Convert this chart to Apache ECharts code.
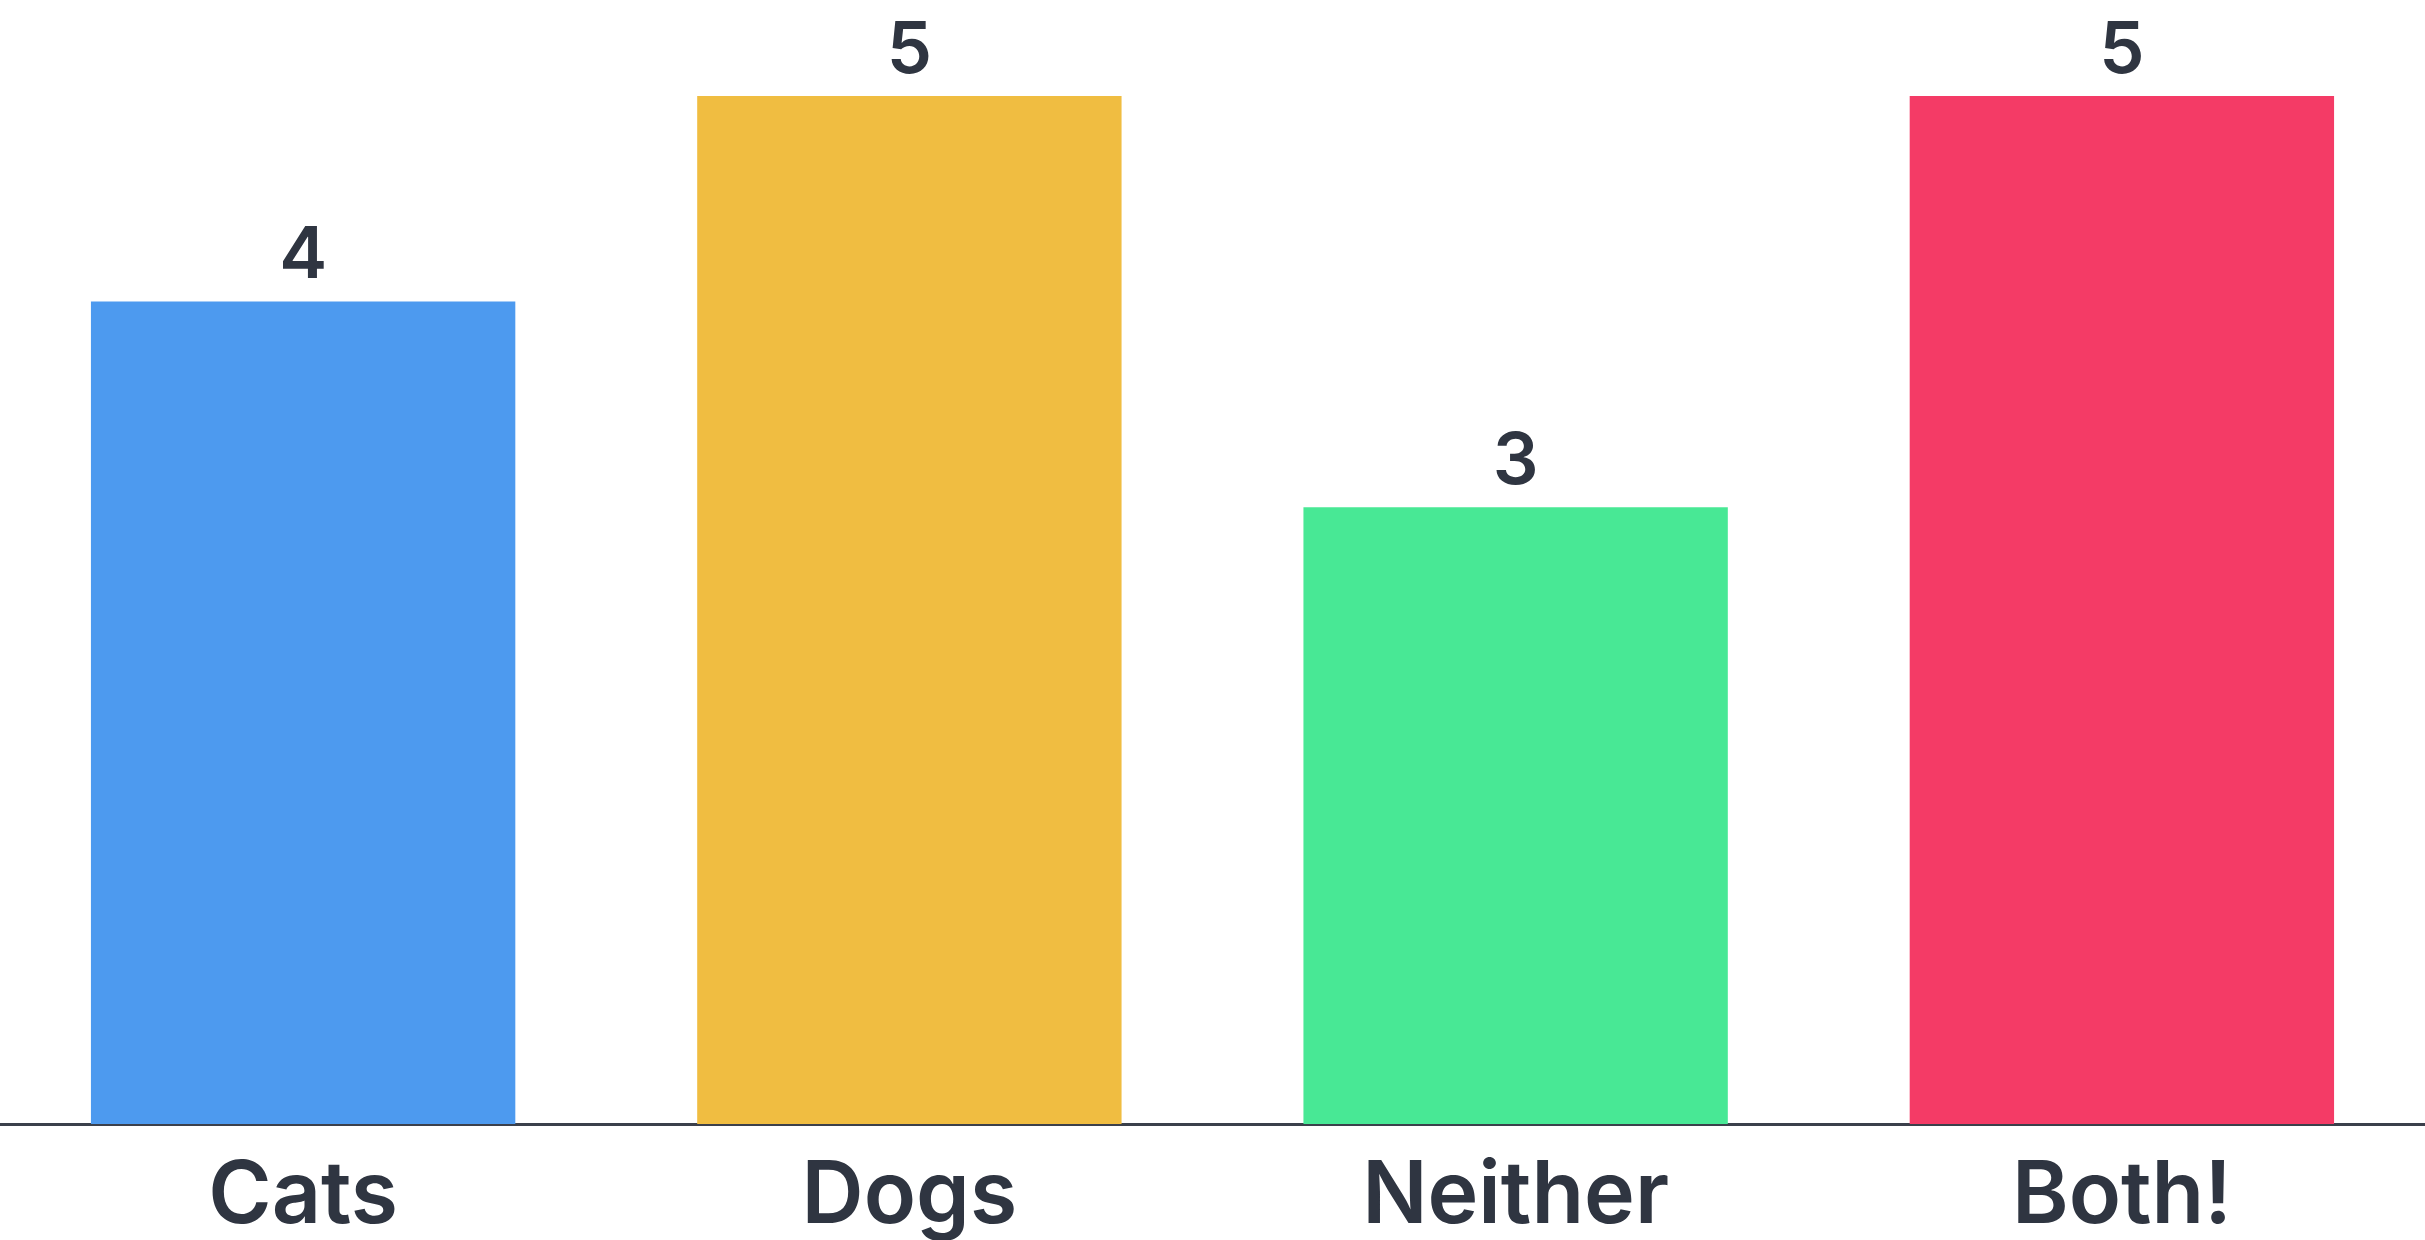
<!DOCTYPE html>
<html>
<head>
<meta charset="utf-8">
<script src="https://cdn.jsdelivr.net/npm/echarts@6/dist/echarts.min.js"></script>
<style>
html,body{margin:0;padding:0;background:#fff;}
#chart{width:2425px;height:1240px;}
</style>
</head>
<body>
<div id="chart"></div>
<script>
const categories = ["Cats", "Dogs", "Neither", "Both!"];
const values = [4, 5, 3, 5];
const barColors = ["#4d9aef", "#f0bd41", "#48e895", "#f43b66"];

const chart = echarts.init(document.getElementById('chart'), null, {renderer: 'canvas'});
chart.setOption({
  backgroundColor: '#ffffff',
  animation: false,
  grid: {left: 0, right: 0, top: 96, bottom: 113, containLabel: false},
  xAxis: {
    type: 'category',
    data: categories,
    axisLine: {show: true, lineStyle: {color: '#3b404b', width: 3}},
    axisTick: {show: false},
    axisLabel: {
      color: '#2f3541',
      fontFamily: 'Inter',
      fontWeight: 600,
      fontSize: 86,
      margin: 30
    }
  },
  yAxis: {
    type: 'value',
    min: 0,
    max: 5,
    interval: 1,
    show: false,
    splitLine: {show: false}
  },
  series: [{
    type: 'bar',
    data: values.map((v, i) => ({value: v, itemStyle: {color: barColors[i]}})),
    barCategoryGap: '30%',
    label: {
      show: true,
      position: 'top',
      distance: 9,
      color: '#2f3541',
      fontFamily: 'Inter',
      fontWeight: 600,
      fontSize: 72
    }
  }]
});
</script>
</body>
</html>
